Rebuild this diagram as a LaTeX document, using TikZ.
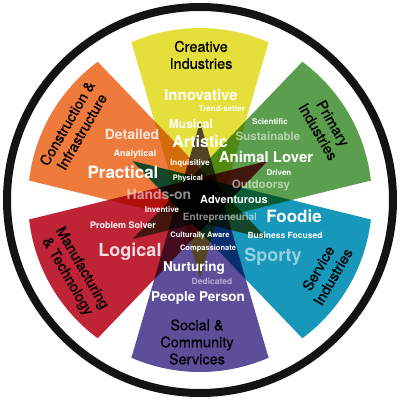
\documentclass[tikz,border=0pt]{standalone}
\usepackage{fontspec}
\setmainfont{TeX Gyre Heros}
\newfontfamily\titlefont[FakeBold=0.7]{TeX Gyre Heros}
\usetikzlibrary{positioning}
\definecolor{creative}{HTML}{E4DF3B}
\definecolor{primary}{HTML}{5B9E4E}
\definecolor{service}{HTML}{1797BA}
\definecolor{social}{HTML}{5D4E9A}
\definecolor{manufact}{HTML}{BE2436}
\definecolor{construct}{HTML}{EE7B3C}
\newcommand{\wsize}[1]{\fontsize{#1}{#1}\selectfont}

\begin{document}
\begin{tikzpicture}[x=1pt,y=1pt,
  word/.style={text=white,inner sep=0pt},
  faint/.style={word,text opacity=0.55},
  title/.style={text=black,align=center,inner sep=0pt,font=\titlefont\fontsize{14.5}{17}\selectfont}]
\useasboundingbox (-200,-200) rectangle (200,200);
\fill[white] (0,0) circle (197);
\draw[line width=8pt,black!92] (0,0) circle (193);
% the six sectors, each running past the centre
\begin{scope}[blend mode=multiply]
\foreach \ang/\col in {90/creative,30/primary,-30/service,-90/social,-150/manufact,150/construct}
  \fill[\col] (\ang+180:78) -- (\ang-23.5:172) arc[start angle=\ang-23.5,end angle=\ang+23.5,radius=172] -- cycle;
\end{scope}
% sector titles
\node[title] (creativeT) at (1,145) {Creative\\Industries};
\node[title,rotate=-60] (primaryT) at (30:145) {Primary\\Industries};
\node[title,rotate=60] (serviceT) at (-30:145) {Service\\Industries};
\node[title] (socialT) at (-3,-142) {Social \&\\Community\\Services};
\node[title,rotate=-60] (manufactT) at (-150:145) {Manufacturing\\\& Technology};
\node[title,rotate=60] (constructT) at (150:145) {Construction \&\\Infrastructure};
% creative
\node[word,font=\bfseries\wsize{15}] (innovative) at (1,105) {Innovative};
\node[word,font=\bfseries\wsize{8}] (trend) at (22,91) {Trend-setter};
\node[word,font=\bfseries\wsize{12}] (musical) at (-9,76) {Musical};
\node[word,font=\bfseries\wsize{16}] (artistic) at (0,58) {Artistic};
\node[word,font=\bfseries\wsize{8}] (inquisitive) at (-10,37) {Inquisitive};
\node[word,font=\bfseries\wsize{7.5}] (physical) at (-12,21) {Physical};
% primary
\node[word,font=\bfseries\wsize{8}] (scientific) at (70,78) {Scientific};
\node[faint,font=\bfseries\wsize{11.5}] (sustainable) at (68,64) {Sustainable};
\node[word,font=\bfseries\wsize{15}] (animal) at (66,43) {Animal Lover};
\node[word,font=\bfseries\wsize{8}] (driven) at (79,27) {Driven};
\node[faint,font=\bfseries\wsize{11.5}] (outdoorsy) at (61,15) {Outdoorsy};
\node[word,font=\bfseries\wsize{11}] (adventurous) at (34,0) {Adventurous};
% service
\node[word,font=\bfseries\wsize{17}] (foodie) at (94,-16) {Foodie};
\node[word,font=\bfseries\wsize{8.5}] (business) at (85,-35) {Business Focused};
\node[faint,font=\bfseries\wsize{18}] (sporty) at (73,-57) {Sporty};
\node[faint,font=\bfseries\wsize{10}] (entre) at (20,-18) {Entrepreneurial};
% social
\node[word,font=\bfseries\wsize{7.5}] (cultural) at (0,-36) {Culturally Aware};
\node[word,font=\bfseries\wsize{7.5}] (compass) at (8,-49) {Compassionate};
\node[word,font=\bfseries\wsize{13.5}] (nurturing) at (-6,-68) {Nurturing};
\node[faint,font=\bfseries\wsize{8.5}] (dedicated) at (12,-81) {Dedicated};
\node[word,font=\bfseries\wsize{13.5}] (people) at (-2,-98) {People Person};
% manufacturing
\node[word,font=\bfseries\wsize{8}] (inventive) at (-38,-10) {Inventive};
\node[word,font=\bfseries\wsize{9}] (problem) at (-77,-25) {Problem Solver};
\node[word,text opacity=0.85,font=\bfseries\wsize{18}] (logical) at (-70,-52) {Logical};
% construction
\node[word,text opacity=0.8,font=\bfseries\wsize{14}] (detailed) at (-68,66) {Detailed};
\node[word,font=\bfseries\wsize{9}] (analytical) at (-65,46) {Analytical};
\node[word,font=\bfseries\wsize{17}] (practical) at (-77,28) {Practical};
\node[faint,font=\bfseries\wsize{14}] (hands) at (-41,6) {Hands-on};
\end{tikzpicture}
\end{document}
